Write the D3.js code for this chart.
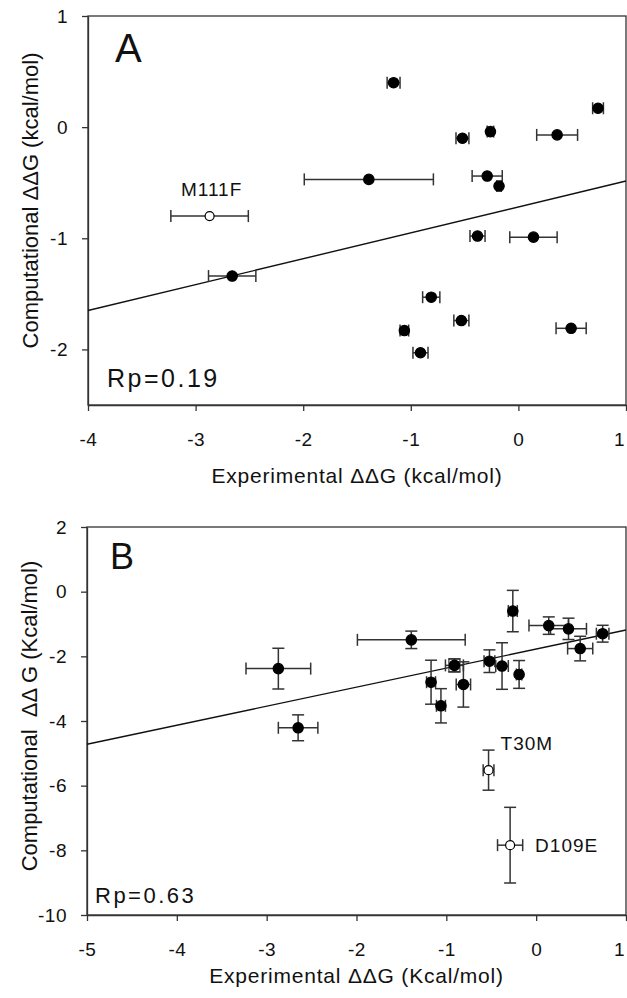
<!DOCTYPE html>
<html>
<head>
<meta charset="utf-8">
<script src="https://d3js.org/d3.v7.min.js"></script>
<style>
  body { margin: 0; background: #fff; }
  text { font-family: "Liberation Sans", Arial, sans-serif; fill: #111; }
</style>
</head>
<body>
<script>
// ---- panel A data ----
var expA     = [-1.16, 0.74, 0.36, -0.26, -0.52, -1.39, -0.29, -0.18, -2.66, -0.38, 0.14, -0.81, -0.53, -1.06, 0.49, -0.91, -2.87];
var expErrA  = [0.06, 0.05, 0.19, 0.03, 0.06, 0.60, 0.14, 0.02, 0.22, 0.07, 0.22, 0.08, 0.07, 0.04, 0.14, 0.07, 0.36];
var compA    = [0.40, 0.17, -0.07, -0.04, -0.10, -0.47, -0.44, -0.53, -1.34, -0.98, -0.99, -1.53, -1.74, -1.83, -1.81, -2.03, -0.80];
var compErrA = [0, 0, 0, 0, 0, 0, 0, 0, 0, 0, 0, 0, 0, 0, 0, 0, 0];
var openA    = [0, 0, 0, 0, 0, 0, 0, 0, 0, 0, 0, 0, 0, 0, 0, 0, 1];
var labelA   = ["", "", "", "", "", "", "", "", "", "", "", "", "", "", "", "", "M111F"];
var fitA     = [-0.718, 0.233];   // intercept, slope
var xTicksA  = [-4, -3, -2, -1, 0, 1];
var yTicksA  = [1, 0, -1, -2];

// ---- panel B data ----
var expB     = [-2.87, -2.65, -1.39, -0.26, 0.14, 0.36, 0.74, 0.49, -0.91, -0.52, -0.38, -0.19, -1.17, -1.06, -0.81, -0.53, -0.29];
var expErrB  = [0.36, 0.22, 0.60, 0.05, 0.22, 0.20, 0.07, 0.14, 0.10, 0.06, 0.07, 0.03, 0.05, 0.05, 0.08, 0.06, 0.14];
var compB    = [-2.38, -4.21, -1.49, -0.60, -1.05, -1.15, -1.30, -1.76, -2.28, -2.15, -2.30, -2.56, -2.80, -3.53, -2.87, -5.52, -7.84];
var compErrB = [0.63, 0.40, 0.27, 0.64, 0.27, 0.33, 0.26, 0.38, 0.20, 0.35, 0.72, 0.43, 0.68, 0.53, 0.70, 0.62, 1.17];
var openB    = [0, 0, 0, 0, 0, 0, 0, 0, 0, 0, 0, 0, 0, 0, 0, 1, 1];
var squareB  = [0, 0, 0, 0, 0, 0, 0, 0, 1, 0, 0, 0, 0, 0, 0, 0, 0];
var labelB   = ["", "", "", "", "", "", "", "", "", "", "", "", "", "", "", "T30M", "D109E"];
var fitB     = [-1.775, 0.589];
var xTicksB  = [-5, -4, -3, -2, -1, 0, 1];
var yTicksB  = [2, 0, -2, -4, -6, -8, -10];

var svg = d3.select("body").append("svg")
    .attr("width", 627)
    .attr("height", 998);

svg.append("rect").attr("width", 627).attr("height", 998).attr("fill", "#fff");

var lineCol = "#333";
var fmt = function(d) { return String(d); };   // plain hyphen minus, no decimals

function drawPanel(opt) {
    var g = svg.append("g").attr("transform", "translate(" + opt.left + "," + opt.top + ")");
    var x = d3.scaleLinear().domain(opt.xDomain).range([0, opt.w]);
    var y = d3.scaleLinear().domain(opt.yDomain).range([opt.h, 0]);

    // frame
    g.append("rect").attr("width", opt.w).attr("height", opt.h)
        .attr("fill", "none").attr("stroke", lineCol).attr("stroke-width", 1.3);

    var xa = g.append("g").attr("transform", "translate(0," + opt.h + ")")
        .call(d3.axisBottom(x).tickValues(opt.xTicks).tickFormat(fmt).tickSize(6).tickSizeOuter(0).tickPadding(22));
    var ya = g.append("g")
        .call(d3.axisLeft(y).tickValues(opt.yTicks).tickFormat(fmt).tickSize(6).tickSizeOuter(0).tickPadding(14));
    [xa, ya].forEach(function(a) {
        a.select(".domain").attr("stroke", lineCol).attr("stroke-width", 1.3);
        a.selectAll(".tick line").attr("stroke", lineCol).attr("stroke-width", 1.3);
        a.selectAll(".tick text").attr("font-size", "19px").attr("fill", "#111")
            .attr("letter-spacing", "0.5px")
            .attr("font-family", "'Liberation Sans', Arial, sans-serif");
    });
    // last x label sits on the page edge: keep it inside
    xa.selectAll(".tick text").filter(function(d) { return d === opt.xDomain[1]; })
        .attr("text-anchor", "end").attr("letter-spacing", null).attr("dx", "-2px");

    // regression line
    var xd = x.domain();
    g.append("line")
        .attr("x1", x(xd[0])).attr("y1", y(opt.fit[0] + opt.fit[1] * xd[0]))
        .attr("x2", x(xd[1])).attr("y2", y(opt.fit[0] + opt.fit[1] * xd[1]))
        .attr("stroke", "#111").attr("stroke-width", 1.4);

    var idx = d3.range(opt.ex.length);
    var cap = 6;

    // error bars
    var eb = g.append("g").attr("stroke", lineCol).attr("stroke-width", 1.5);
    idx.forEach(function(i) {
        var cx = x(opt.ex[i]), cy = y(opt.cy[i]);
        if (opt.exErr[i] > 0) {
            var x0 = x(opt.ex[i] - opt.exErr[i]), x1 = x(opt.ex[i] + opt.exErr[i]);
            eb.append("line").attr("x1", x0).attr("x2", x1).attr("y1", cy).attr("y2", cy);
            eb.append("line").attr("x1", x0).attr("x2", x0).attr("y1", cy - cap).attr("y2", cy + cap);
            eb.append("line").attr("x1", x1).attr("x2", x1).attr("y1", cy - cap).attr("y2", cy + cap);
        }
        if (opt.cyErr[i] > 0) {
            var y0 = y(opt.cy[i] - opt.cyErr[i]), y1 = y(opt.cy[i] + opt.cyErr[i]);
            eb.append("line").attr("x1", cx).attr("x2", cx).attr("y1", y0).attr("y2", y1);
            eb.append("line").attr("x1", cx - cap).attr("x2", cx + cap).attr("y1", y0).attr("y2", y0);
            eb.append("line").attr("x1", cx - cap).attr("x2", cx + cap).attr("y1", y1).attr("y2", y1);
        }
    });

    // square marker behind
    if (opt.square) {
        g.selectAll(".sq").data(idx.filter(function(i) { return opt.square[i]; }))
            .enter().append("rect")
            .attr("x", function(i) { return x(opt.ex[i]) - 5.5; })
            .attr("y", function(i) { return y(opt.cy[i]) - 6.5; })
            .attr("width", 11).attr("height", 13)
            .attr("fill", "none").attr("stroke", lineCol).attr("stroke-width", 1.2);
    }

    // points
    g.selectAll(".pt").data(idx)
        .enter().append("circle")
        .attr("cx", function(i) { return x(opt.ex[i]); })
        .attr("cy", function(i) { return y(opt.cy[i]); })
        .attr("r", function(i) { return opt.open[i] ? 4.5 : 5.2; })
        .attr("fill", function(i) { return opt.open[i] ? "#fff" : "#000"; })
        .attr("stroke", "#000").attr("stroke-width", 1.2);

    // point labels
    idx.filter(function(i) { return opt.labels[i]; }).forEach(function(i) {
        var p = opt.labelPos[opt.labels[i]];
        g.append("text")
            .attr("x", x(opt.ex[i]) + p[0]).attr("y", y(opt.cy[i]) + p[1])
            .attr("text-anchor", p[2])
            .attr("font-size", "19px").attr("letter-spacing", "1px")
            .text(opt.labels[i]);
    });

    // panel letter
    g.append("text").attr("x", opt.letterPos[0]).attr("y", opt.letterPos[1])
        .attr("font-size", opt.letterSize).text(opt.letter);

    // Rp text
    g.append("text").attr("x", opt.rpPos[0]).attr("y", opt.rpPos[1])
        .attr("font-size", opt.rpSize).attr("letter-spacing", "2.5px").text(opt.rp);

    // axis titles
    g.append("text")
        .attr("x", opt.w / 2).attr("y", opt.h + opt.xTitleDy)
        .attr("text-anchor", "middle").attr("font-size", "21px").attr("letter-spacing", "0.8px")
        .text(opt.xTitle);
    g.append("text")
        .attr("transform", "translate(" + opt.yTitleDx + "," + (opt.h / 2 + opt.yTitleShift) + ") rotate(-90)")
        .attr("text-anchor", "middle").attr("font-size", "22px")
        .style("white-space", "pre")
        .text(opt.yTitle);
}

drawPanel({
    left: 88, top: 16, w: 538, h: 389,
    xDomain: [-4, 1], yDomain: [-2.5, 1],
    xTicks: xTicksA, yTicks: yTicksA,
    ex: expA, exErr: expErrA, cy: compA, cyErr: compErrA,
    open: openA, labels: labelA, fit: fitA,
    labelPos: { "M111F": [2, -20, "middle"] },
    letter: "A", letterPos: [27, 46], letterSize: "40px",
    rp: "Rp=0.19", rpPos: [19, 371], rpSize: "25px",
    xTitle: "Experimental \u0394\u0394G (kcal/mol)", xTitleDy: 78,
    yTitle: "Computational \u0394\u0394G (kcal/mol)", yTitleDx: -50, yTitleShift: -10
});

drawPanel({
    left: 87, top: 527, w: 539, h: 388,
    xDomain: [-5, 1], yDomain: [-10, 2],
    xTicks: xTicksB, yTicks: yTicksB,
    ex: expB, exErr: expErrB, cy: compB, cyErr: compErrB,
    open: openB, square: squareB, labels: labelB, fit: fitB,
    labelPos: { "T30M": [12, -20, "start"], "D109E": [25, 7, "start"] },
    letter: "B", letterPos: [23, 42], letterSize: "36px",
    rp: "Rp=0.63", rpPos: [8, 376], rpSize: "22px",
    xTitle: "Experimental \u0394\u0394G (Kcal/mol)", xTitleDy: 68,
    yTitle: "Computational  \u0394\u0394 G (Kcal/mol)", yTitleDx: -50, yTitleShift: -5
});
</script>
</body>
</html>
